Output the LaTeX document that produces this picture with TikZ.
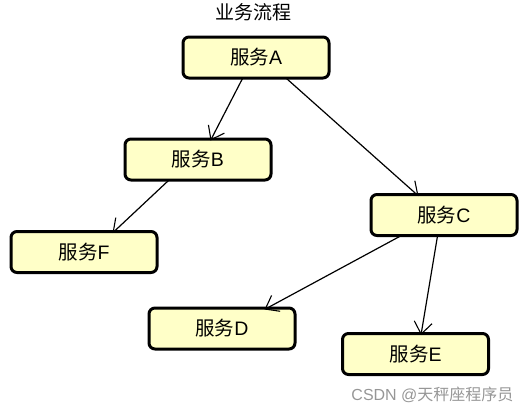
\documentclass[tikz,border=0pt]{standalone}
\usepackage{fontspec}
\setmainfont{Liberation Sans}
\newfontfamily\cjk{Noto Sans CJK SC}
\usetikzlibrary{arrows.meta}
\begin{document}
\begin{tikzpicture}[x=1pt,y=-1pt,
  svc/.style={draw=black, line width=3pt, rounded corners=6pt, fill={rgb,255:red,255;green,255;blue,200},
    minimum width=146pt, minimum height=41pt, inner sep=0pt, font=\fontsize{19.5}{22}\selectfont},
  conn/.style={line width=1.2pt, -{Straight Barb[length=12pt,width=18pt,line width=1.1pt]}}]
\useasboundingbox (0,0) rectangle (527,416);
\node[font=\cjk\fontsize{19}{21}\selectfont] (title) at (253,12) {业务流程};
\node[svc] (A) at (256,57.5) {{\cjk 服务}A};
\node[svc] (B) at (198,159.5) {{\cjk 服务}B};
\node[svc] (F) at (84,252) {{\cjk 服务}F};
\node[svc] (C) at (444,215) {{\cjk 服务}C};
\node[svc] (D) at (222,328.5) {{\cjk 服务}D};
\node[svc] (E) at (415.5,354) {{\cjk 服务}E};
\draw[conn] ([xshift=61pt,yshift=1pt]A.south west) -- ([xshift=87pt,yshift=-3pt]B.north west);
\draw[conn] ([xshift=-44pt,yshift=1pt]A.south east) -- ([xshift=49pt,yshift=-3pt]C.north west);
\draw[conn] ([xshift=45pt,yshift=1pt]B.south west) -- ([xshift=103pt,yshift=-3pt]F.north west);
\draw[conn] ([xshift=31pt,yshift=1pt]C.south west) -- ([xshift=117pt,yshift=-3pt]D.north west);
\draw[conn] ([xshift=68pt,yshift=1pt]C.south west) -- ([xshift=80pt,yshift=-3pt]E.north west);
\node[text={rgb,255:red,150;green,150;blue,150}, font=\fontsize{16}{18}\selectfont, anchor=east] (wm) at (517,395) {CSDN @{\cjk 天秤座程序员}};
\end{tikzpicture}
\end{document}
